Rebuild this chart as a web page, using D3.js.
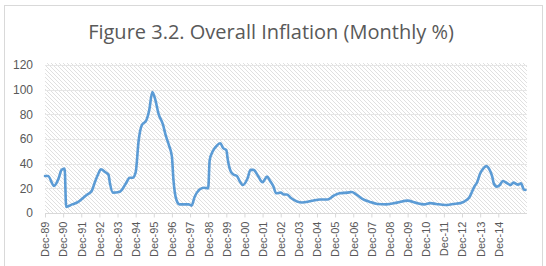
<!DOCTYPE html>
<html>
<head>
<meta charset="utf-8">
<script src="https://cdn.jsdelivr.net/npm/d3@7/dist/d3.min.js"></script>
<style>
  body { margin: 0; background: #fff; }
  svg { display: block; font-family: "Open Sans", "Liberation Sans", sans-serif; }
</style>
</head>
<body>
<div id="chart"></div>
<script>
// months counted from Dec-89
var months = [0, 2, 6, 9, 11, 13, 14, 18, 22, 25, 28, 31, 33, 35, 37, 40, 42, 43, 45, 49,
    51, 54, 56, 58, 60, 62, 64, 67, 69, 71, 73, 75, 78, 80, 82, 84, 85, 87, 89, 95,
    97, 99, 102, 105, 108, 109, 111, 114, 116, 118, 120, 121, 123, 125, 127, 129, 131, 134, 136, 138,
    141, 144, 147, 149, 151, 153, 156, 158, 160, 163, 170, 177, 182, 187, 191, 195, 200, 203, 206, 210,
    215, 220, 226, 233, 240, 245, 251, 255, 259, 265, 270, 275, 279, 281, 284, 286, 288, 290, 292, 294,
    296, 297, 299, 301, 303, 306, 308, 310, 313, 315, 317, 318];
var inflation = [30, 30, 22, 28, 35, 36, 5, 7, 9, 12, 15, 18, 25, 31, 35.5, 33, 31, 24, 16.5, 17,
    19, 25, 28.6, 28.6, 33, 59, 71, 75, 83.5, 98, 92, 81, 72, 62.5, 55, 45.7, 27, 10.5, 7, 7,
    6, 13, 18.7, 20.5, 20, 43, 50, 55, 56.5, 52.5, 51, 43, 33.5, 31, 30, 25.5, 22.7, 28, 35, 35,
    30, 25, 29.5, 26, 22, 16, 16.5, 15, 15, 12, 8.5, 10, 11, 11, 14, 16, 16.5, 17, 15, 11.5,
    9, 7.3, 7, 8.4, 10, 8.4, 7, 8, 7.3, 6.5, 7.3, 8, 10.5, 13, 21, 25, 32, 36, 38, 35.5,
    29.5, 24, 21.4, 22.7, 26, 24, 22.7, 24.6, 23, 24, 19, 18.7];
var yTicks = [0, 20, 40, 60, 80, 100, 120];
var yearLabels = ["Dec-89", "Dec-90", "Dec-91", "Dec-92", "Dec-93", "Dec-94", "Dec-95", "Dec-96", "Dec-97",
    "Dec-98", "Dec-99", "Dec-00", "Dec-01", "Dec-02", "Dec-03", "Dec-04", "Dec-05", "Dec-06", "Dec-07",
    "Dec-08", "Dec-09", "Dec-10", "Dec-11", "Dec-12", "Dec-13", "Dec-14"];

var W = 546, H = 266;
var plot = { left: 45, right: 527, top: 65, bottom: 213 };

var svg = d3.select("#chart").append("svg")
    .attr("width", W)
    .attr("height", H);

// hatch pattern
var pat = svg.append("defs").append("pattern")
    .attr("id", "hatch")
    .attr("patternUnits", "userSpaceOnUse")
    .attr("width", 4)
    .attr("height", 4);
pat.append("path")
    .attr("d", "M-1,-1 L5,5 M-1,3 L1,5 M3,-1 L5,1")
    .attr("stroke", "#dcdcdc")
    .attr("stroke-width", 0.9);

// chart frame
svg.append("rect")
    .attr("x", 4.5).attr("y", 5.5)
    .attr("width", 538).attr("height", 264)
    .attr("fill", "#fff")
    .attr("stroke", "#d9d9d9");

svg.append("text")
    .attr("x", 271)
    .attr("y", 39)
    .attr("text-anchor", "middle")
    .attr("fill", "#595959")
    .style("font-size", "20px")
    .text("Figure 3.2. Overall Inflation (Monthly %)");

var x = d3.scaleLinear().domain([0, 319]).range([plot.left, plot.right]);
var y = d3.scaleLinear().domain([0, 120]).range([plot.bottom, plot.top]);

svg.append("rect")
    .attr("x", plot.left).attr("y", plot.top - 2)
    .attr("width", plot.right - plot.left)
    .attr("height", plot.bottom - plot.top + 2)
    .attr("fill", "url(#hatch)");

// grid lines
svg.append("g")
    .selectAll("line")
    .data(yTicks.slice(1))
    .enter().append("line")
    .attr("x1", plot.left).attr("x2", plot.right)
    .attr("y1", d => Math.round(y(d)) + 0.5)
    .attr("y2", d => Math.round(y(d)) + 0.5)
    .attr("stroke", "#e6e6e6")
    .attr("stroke-width", 1.2);

var yAxis = d3.axisLeft(y).tickValues(yTicks).tickSize(0).tickPadding(12);
var gy = svg.append("g")
    .attr("transform", "translate(" + plot.left + ",0)")
    .call(yAxis);
gy.select(".domain").remove();
gy.selectAll("text").attr("fill", "#595959").style("font-size", "12px");

var xAxis = d3.axisBottom(x)
    .tickValues(yearLabels.map((d, i) => i * 12))
    .tickFormat((d, i) => yearLabels[i])
    .tickSize(4);
var gx = svg.append("g")
    .attr("transform", "translate(0," + (plot.bottom + 0.5) + ")")
    .call(xAxis);
gx.select(".domain").attr("stroke", "#d9d9d9").attr("d", "M" + plot.left + ",0H" + plot.right);
gx.selectAll(".tick line").attr("stroke", "#d9d9d9");
gx.selectAll("text")
    .attr("fill", "#595959")
    .style("font-size", "11px")
    .attr("text-anchor", "end")
    .attr("transform", "rotate(-90)")
    .attr("x", -8)
    .attr("y", 0)
    .attr("dy", "0.35em");

var line = d3.line()
    .x((d, i) => x(months[i]))
    .y(d => y(d))
    .curve(d3.curveMonotoneX);

svg.append("path")
    .datum(inflation)
    .attr("d", line)
    .attr("fill", "none")
    .attr("stroke", "#5b9bd5")
    .attr("stroke-width", 2.6)
    .attr("stroke-linejoin", "round")
    .attr("stroke-linecap", "round");
</script>
</body>
</html>
